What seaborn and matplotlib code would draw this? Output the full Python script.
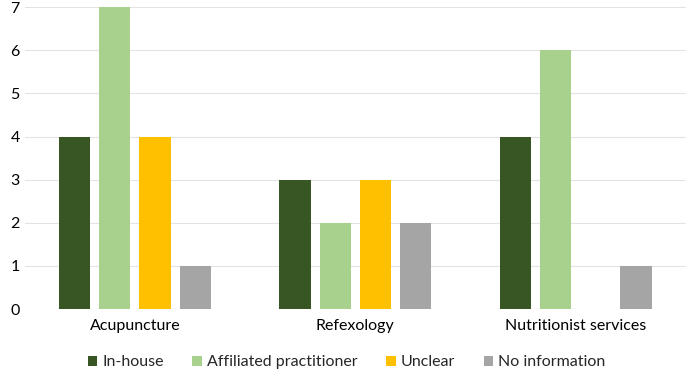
import pandas as pd
import matplotlib
matplotlib.use("Agg")
import matplotlib.pyplot as plt
import seaborn as sns

# Values
categories = ["Acupuncture", "Refexology", "Nutritionist services"]
series = ["In-house", "Affiliated practitioner", "Unclear", "No information"]
in_house = [4, 3, 4]
affiliated = [7, 2, 6]
unclear = [4, 3, 0]
no_info = [1, 2, 1]
colors = ["#375623", "#A9D18E", "#FFC000", "#A5A5A5"]

# Long format table for seaborn
rows = []
for s, vals in zip(series, [in_house, affiliated, unclear, no_info]):
    for c, v in zip(categories, vals):
        rows.append({"Category": c, "Source": s, "Count": v})
df = pd.DataFrame(rows)

sns.set_style("white")
plt.rcParams["font.family"] = ["Lato", "DejaVu Sans"]

fig = plt.figure(figsize=(6.86, 3.72), dpi=100)
ax = fig.add_axes([0.036, 0.169, 0.964, 0.812])

sns.barplot(data=df, x="Category", y="Count", hue="Source", order=categories,
            hue_order=series, palette=colors, width=0.73, gap=0.22,
            saturation=1, linewidth=0, ax=ax, legend=True)

ax.set_ylim(0, 7)
ax.set_yticks(range(0, 8))
ax.yaxis.grid(True, color="#E3E3E3", linewidth=0.8)
ax.set_axisbelow(True)
for sp in ax.spines.values():
    sp.set_visible(False)
ax.set_xlabel("")
ax.set_ylabel("")
ax.tick_params(axis="both", length=0, labelsize=11.5, colors="black")
ax.tick_params(axis="x", pad=7)

handles, labels = ax.get_legend_handles_labels()
ax.get_legend().remove()
fig.legend(handles, labels, loc="center", bbox_to_anchor=(0.505, 0.026),
           ncol=4, frameon=False, fontsize=11.5, handlelength=0.6,
           handleheight=0.6, handletextpad=0.3, columnspacing=1.8)

fig.savefig("out.png", dpi=100)
